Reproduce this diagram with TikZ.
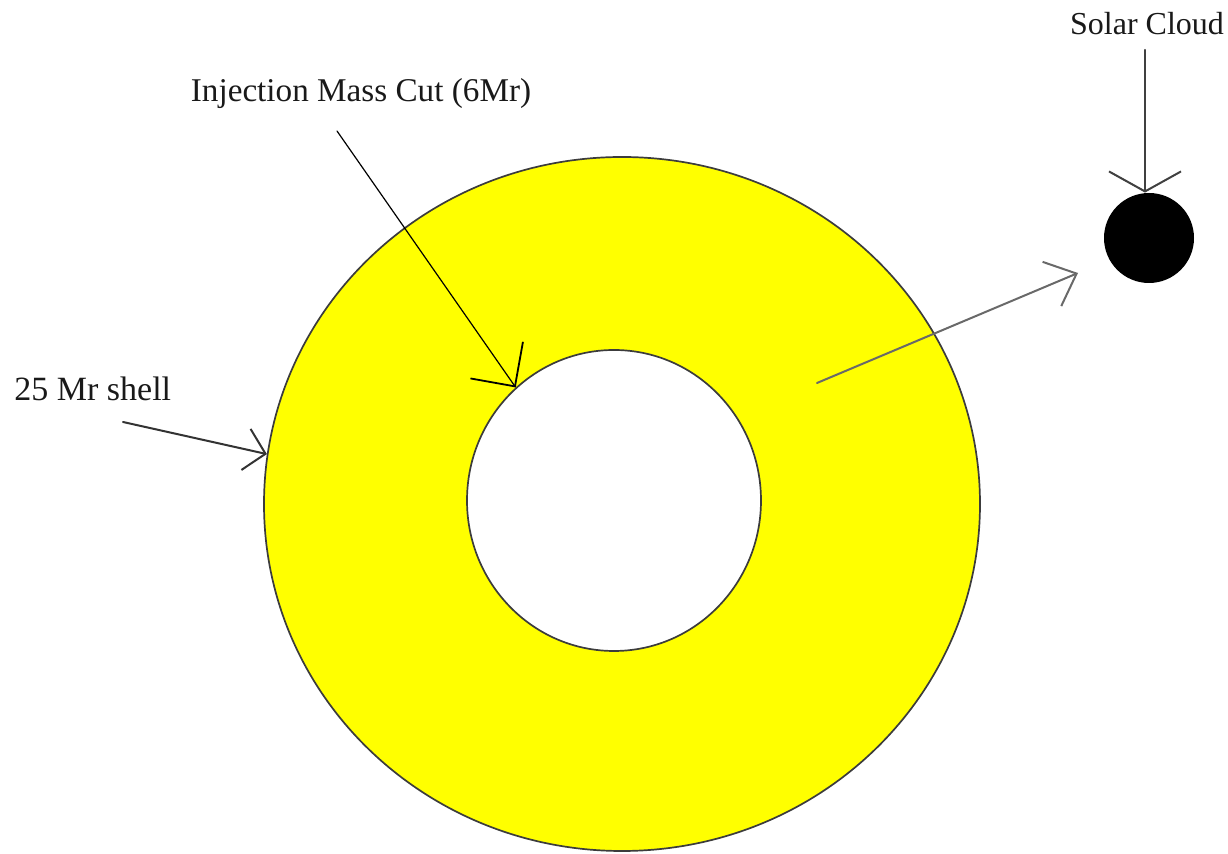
\documentclass[tikz,border=0pt]{standalone}
\usepackage{fontspec}
\setmainfont{Liberation Serif}
\usetikzlibrary{arrows.meta,shapes.geometric}
\definecolor{ringyellow}{RGB}{255,255,0}
\definecolor{edgegray}{RGB}{60,60,60}
\definecolor{ptrgray}{RGB}{105,105,105}
\begin{document}
\begin{tikzpicture}[x=0.5pt,y=-0.5pt,
  lbl/.style={inner sep=0pt, text=black!90},
  ringedge/.style={ellipse, draw=edgegray, line width=0.85pt, inner sep=0pt},
  ptr/.style={line width=1pt, draw=black!80, line cap=round}]
\useasboundingbox (0,0) rectangle (1228,854);
% ring fill
\fill[ringyellow, even odd rule] (622,504) ellipse [x radius=358, y radius=347]
      (614,500.5) ellipse [x radius=147, y radius=150.5];
\node[ringedge, minimum width=358pt, minimum height=347pt] (outer) at (622,504) {};
\node[ringedge, minimum width=147pt, minimum height=150.5pt] (inner) at (614,500.5) {};
% solar cloud
\node[circle, fill=black, minimum size=45pt, inner sep=0pt] (cloud) at (1149,238) {};
% labels
\node[lbl, anchor=base, font=\fontsize{16}{18}\selectfont] (solarlbl) at (1147,35) {Solar Cloud};
\node[lbl, anchor=base, font=\fontsize{16.6}{18}\selectfont] (injlbl) at (361,102) {Injection Mass Cut (6Mr)};
\node[lbl, anchor=base west, font=\fontsize{17}{18}\selectfont] (shelllbl) at (14,401) {25 Mr shell};
% arrow start points
\coordinate (solarsrc) at (1145,50);
\coordinate (injsrc) at (337,131);
\coordinate (shellsrc) at (123,422);
\coordinate (outsrc) at (817,383);
\coordinate (outtip) at (1078,273);
% arrows
\draw[ptr, draw=black!75, -{Straight Barb[length=10pt, width=36pt, line width=1pt]}] (solarsrc) -- (solarsrc |- cloud.north);
\draw[ptr, line width=0.6pt, draw=black, -{Straight Barb[length=16pt, width=32pt, line width=0.9pt]}] (injsrc) -- (inner.131.3);
\draw[ptr, -{Straight Barb[length=10pt, width=21pt, line width=1pt]}] (shellsrc) -- (outer.172.5);
\draw[ptr, draw=ptrgray, -{Straight Barb[length=13.4pt, width=24pt, line width=1pt]}] (outsrc) -- (outtip);
\end{tikzpicture}
\end{document}
